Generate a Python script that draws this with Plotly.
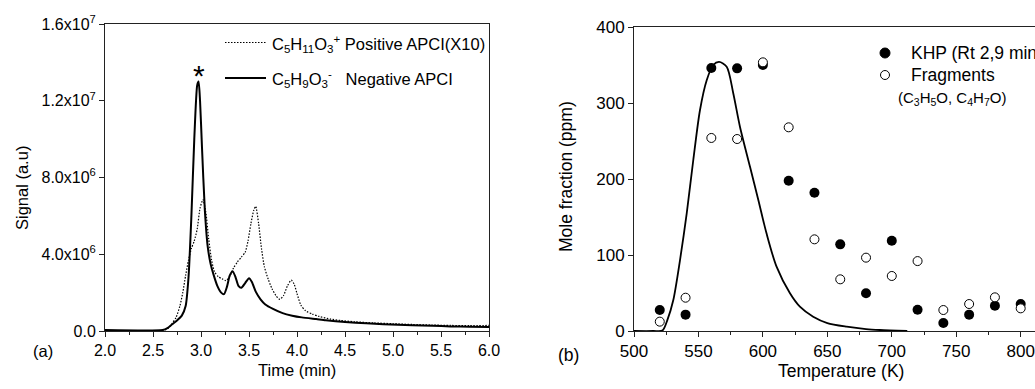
import plotly.graph_objects as go

W, H = 1035, 389
FONT = "Liberation Sans, Arial, sans-serif"

# ---- (a) chromatograms ----
time_neg = [2.00, 2.60, 2.65, 2.70, 2.75, 2.80, 2.84, 2.87, 2.90, 2.93, 2.96, 2.975, 2.99,
            3.01, 3.04, 3.07, 3.10, 3.13, 3.17, 3.21, 3.24, 3.27, 3.30, 3.33, 3.36, 3.39,
            3.42, 3.46, 3.50, 3.53, 3.57, 3.62, 3.67, 3.75, 3.85, 3.95, 4.05, 4.20, 4.30,
            4.50, 4.72, 4.90, 5.20, 5.41, 5.60, 5.80, 6.00]
signal_neg = [0.05, 0.05, 0.15, 0.35, 0.55, 0.80, 1.3, 2.8, 6.0, 10.0, 12.8, 13.0, 12.0,
              9.6, 6.3, 4.4, 3.5, 2.95, 2.35, 2.0, 1.92, 2.3, 2.9, 3.12, 2.8, 2.35,
              2.25, 2.5, 2.75, 2.55, 2.05, 1.65, 1.38, 1.15, 0.93, 0.80, 0.71, 0.62, 0.56,
              0.47, 0.40, 0.35, 0.30, 0.27, 0.24, 0.22, 0.21]  # x1e6

time_pos = [2.00, 2.62, 2.66, 2.70, 2.74, 2.78, 2.81, 2.84, 2.87, 2.90, 2.93, 2.96, 2.99,
            3.02, 3.05, 3.08, 3.11, 3.14, 3.18, 3.22, 3.26, 3.30, 3.34, 3.38, 3.42, 3.46,
            3.49, 3.52, 3.55, 3.57, 3.60, 3.63, 3.66, 3.70, 3.74, 3.78, 3.82, 3.86, 3.90,
            3.94, 3.97, 4.00, 4.04, 4.09, 4.16, 4.23, 4.35, 4.45, 4.60, 4.80, 5.00, 5.20,
            5.40, 5.60, 5.80, 6.00]
signal_pos = [0.03, 0.05, 0.15, 0.40, 0.70, 1.3, 2.0, 2.9, 3.7, 4.3, 4.7, 5.3, 6.4,
              6.85, 6.2, 4.8, 3.7, 3.1, 2.83, 2.72, 2.62, 2.85, 3.3, 3.6, 3.85, 4.1,
              4.7, 5.6, 6.3, 6.5, 5.6, 4.3, 3.35, 2.7, 2.2, 1.85, 1.65, 1.85, 2.35,
              2.65, 2.45, 1.95, 1.35, 1.05, 0.88, 0.76, 0.62, 0.55, 0.48, 0.42, 0.38, 0.34,
              0.31, 0.29, 0.28, 0.29]  # x1e6

sig_ticks = [0, 4e6, 8e6, 1.2e7, 1.6e7]
sig_labels = ["0.0", "4.0x10<sup>6</sup>", "8.0x10<sup>6</sup>",
              "1.2x10<sup>7</sup>", "1.6x10<sup>7</sup>"]
time_ticks = [2.0, 2.5, 3.0, 3.5, 4.0, 4.5, 5.0, 5.5, 6.0]

# ---- (b) mole fraction vs temperature ----
temp = [520, 540, 560, 580, 600, 620, 640, 660, 680, 700, 720, 740, 760, 780, 800]
khp = [27.6, 21.5, 346, 345.6, 350, 197.8, 182, 114, 49.6, 118.8, 28, 10.5, 21.5, 33.3, 35.5]
fragments = [12.3, 43.8, 254, 252.6, 353.5, 268, 120.6, 68, 96.5, 72.4, 92, 27.6, 35.5, 44.3, 29.8]

model_temp = [500, 515, 522, 526, 530.5, 535.7, 540.9, 546, 551.2, 556.4, 561.5, 566,
              571.9, 577, 582.2, 590, 596.5, 602.8, 610.6, 621, 628.7, 639, 650, 665,
              680, 690.7, 712]
model_ppm = [0, 0, 0.5, 15, 40.8, 93.4, 154.8, 225, 290.8, 330, 350, 354,
             347.8, 312.8, 268.8, 216, 172, 128.5, 84.6, 49.6, 32, 18.8, 10.5, 5.7,
             2.5, 1.3, 0]


def px(x):
    return x / W


def py(y):
    return 1 - y / H


fig = go.Figure()

fig.add_trace(go.Scatter(x=time_pos, y=[v * 1e6 for v in signal_pos], mode="lines",
                         line=dict(color="black", width=1.2, dash="1.5px,1.5px",
                                   shape="spline", smoothing=0.6),
                         xaxis="x", yaxis="y", showlegend=False))
fig.add_trace(go.Scatter(x=time_neg, y=[v * 1e6 for v in signal_neg], mode="lines",
                         line=dict(color="black", width=2, shape="spline", smoothing=0.6),
                         xaxis="x", yaxis="y", showlegend=False))

fig.add_trace(go.Scatter(x=model_temp, y=model_ppm, mode="lines",
                         line=dict(color="black", width=1.8, shape="spline", smoothing=0.8),
                         xaxis="x2", yaxis="y2", showlegend=False))
fig.add_trace(go.Scatter(x=temp, y=khp, mode="markers",
                         marker=dict(symbol="circle", size=10, color="black"),
                         xaxis="x2", yaxis="y2", showlegend=False))
fig.add_trace(go.Scatter(x=temp, y=fragments, mode="markers",
                         marker=dict(symbol="circle", size=9, color="white",
                                     line=dict(color="black", width=1)),
                         xaxis="x2", yaxis="y2", showlegend=False))

axis_common = dict(showgrid=False, zeroline=False, showline=True, linecolor="#222",
                   linewidth=1, ticks="outside", ticklen=5, tickwidth=1, tickcolor="#222",
                   automargin=False)

fig.update_layout(
    width=W, height=H, margin=dict(l=0, r=0, t=0, b=0, autoexpand=False),
    paper_bgcolor="white", plot_bgcolor="white",
    font=dict(family=FONT, color="black"),
    xaxis=dict(axis_common, domain=[px(105), px(489)], range=[2.0, 6.0],
               tickvals=time_ticks, ticktext=[f"{t:.1f}" for t in time_ticks],
               tickfont=dict(family=FONT, size=16, color="black"), mirror=True,
               minor=dict(ticks="outside", ticklen=3, dtick=0.25, tickcolor="#222"),
               anchor="y"),
    yaxis=dict(axis_common, domain=[py(331), py(24)], range=[0, 1.6e7],
               tickvals=sig_ticks, ticktext=sig_labels,
               tickfont=dict(family=FONT, size=16, color="black"), mirror=True,
               anchor="x"),
    xaxis2=dict(axis_common, domain=[px(634), 1.0], range=[500, 811.1],
                tickvals=[500, 550, 600, 650, 700, 750, 800],
                tickfont=dict(family=FONT, size=17, color="black"), mirror=True,
                minor=dict(ticks="outside", ticklen=3, dtick=25, tickcolor="#222"),
                anchor="y2"),
    yaxis2=dict(axis_common, domain=[py(331), py(27)], range=[0, 400],
                tickvals=[0, 100, 200, 300, 400],
                tickfont=dict(family=FONT, size=17, color="black"), mirror=False,
                anchor="x2"),
)

ann = []


def text(x, y, s, size, xanchor="center", **kw):
    ann.append(dict(x=px(x), y=py(y), xref="paper", yref="paper", text=s, showarrow=False,
                    xanchor=xanchor, yanchor="middle",
                    font=dict(family=FONT, size=size, color="black"), **kw))


# axis titles and panel tags
text(297, 370, "Time (min)", 16.5)
text(22, 188, "Signal (a.u)", 16.5, textangle=-90)
text(841, 371, "Temperature (K)", 17.5)
text(566, 177, "Mole fraction (ppm)", 17.5, textangle=-90)
text(43, 351, "(a)", 16.5)
text(568, 355, "(b)", 17.5)

# peak marker
text(199, 75, "*", 30)

# (a) legend
text(270, 44, "C<sub>5</sub>H<sub>11</sub>O<sub>3</sub><sup>+</sup> Positive APCI(X10)", 16.5,
     xanchor="left")
text(270, 79, "C<sub>5</sub>H<sub>9</sub>O<sub>3</sub><sup>-</sup>&nbsp;&nbsp;&nbsp;Negative APCI", 16.5,
     xanchor="left")

# (b) legend
text(909, 53, "KHP (Rt 2,9 min)", 17.5, xanchor="left")
text(909, 75, "Fragments", 17.5, xanchor="left")
text(896, 99, "(C<sub>3</sub>H<sub>5</sub>O, C<sub>4</sub>H<sub>7</sub>O)", 15, xanchor="left")

fig.update_layout(annotations=ann)

shapes = [
    dict(type="line", xref="paper", yref="paper", x0=px(225), x1=px(266), y0=py(42.5), y1=py(42.5),
         line=dict(color="black", width=1.2, dash="1.5px,1.5px")),
    dict(type="line", xref="paper", yref="paper", x0=px(225), x1=px(266), y0=py(78), y1=py(78),
         line=dict(color="black", width=2)),
    dict(type="circle", xref="paper", yref="paper", x0=px(880), x1=px(890), y0=py(48), y1=py(58),
         fillcolor="black", line=dict(color="black", width=1)),
    dict(type="circle", xref="paper", yref="paper", x0=px(880.5), x1=px(889.5), y0=py(70.5), y1=py(79.5),
         fillcolor="white", line=dict(color="black", width=1)),
]
fig.update_layout(shapes=shapes)

fig.write_html("out.html")
